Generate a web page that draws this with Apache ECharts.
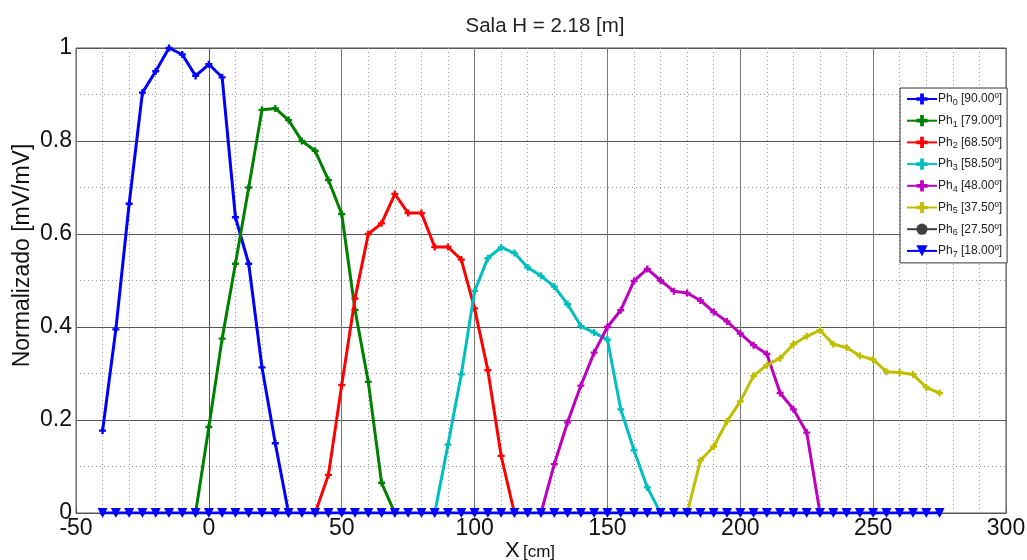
<!DOCTYPE html>
<html>
<head>
<meta charset="utf-8">
<title>Sala H = 2.18 [m]</title>
<script src="https://cdn.jsdelivr.net/npm/echarts@6/dist/echarts.min.js"></script>
<style>
  html, body { margin: 0; padding: 0; background: #fff; }
  #chart { width: 1027px; height: 560px; }
</style>
</head>
<body>
<div id="chart"></div>
<script>
// Phase labels (subscript index, angle)
const phaseNames = ['0', '1', '2', '3', '4', '5', '6', '7'];
const phaseAngles = ['90.00º', '79.00º', '68.50º', '58.50º', '48.00º', '37.50º', '27.50º', '18.00º'];

// Positions [cm] and normalized amplitude [mV/mV] for each phase
const ph0X = [-40, -35, -30, -25, -20, -15, -10, -5, 0, 5, 10, 15, 20, 25, 30];
const ph0Y = [0.177, 0.395, 0.665, 0.904, 0.950, 1.000, 0.986, 0.940, 0.965, 0.937, 0.636, 0.536, 0.313, 0.150, 0];

const ph1X = [-5, 0, 5, 10, 15, 20, 25, 30, 35, 40, 45, 50, 55, 60, 65, 70];
const ph1Y = [0, 0.185, 0.375, 0.536, 0.700, 0.867, 0.870, 0.845, 0.800, 0.779, 0.716, 0.643, 0.437, 0.282, 0.065, 0];

const ph2X = [40, 45, 50, 55, 60, 65, 70, 75, 80, 85, 90, 95, 100, 105, 110, 115];
const ph2Y = [0, 0.082, 0.275, 0.461, 0.600, 0.623, 0.686, 0.645, 0.645, 0.572, 0.572, 0.545, 0.440, 0.307, 0.123, 0];

const ph3X = [85, 90, 95, 100, 105, 110, 115, 120, 125, 130, 135, 140, 145, 150, 155, 160, 165, 170];
const ph3Y = [0, 0.147, 0.298, 0.477, 0.548, 0.571, 0.559, 0.528, 0.510, 0.487, 0.449, 0.402, 0.388, 0.373, 0.223, 0.135, 0.055, 0];

const ph4X = [125, 130, 135, 140, 145, 150, 155, 160, 165, 170, 175, 180, 185, 190, 195, 200, 205, 210, 215, 220, 225, 230];
const ph4Y = [0, 0.105, 0.195, 0.274, 0.345, 0.400, 0.436, 0.499, 0.525, 0.500, 0.477, 0.473, 0.457, 0.432, 0.412, 0.386, 0.361, 0.342, 0.258, 0.223, 0.173, 0];

const ph5X = [180, 185, 190, 195, 200, 205, 210, 215, 220, 225, 230, 235, 240, 245, 250, 255, 260, 265, 270, 275];
const ph5Y = [0, 0.113, 0.143, 0.197, 0.240, 0.295, 0.318, 0.333, 0.363, 0.380, 0.393, 0.363, 0.356, 0.338, 0.330, 0.304, 0.302, 0.298, 0.270, 0.258];

const ph6X = [-40, -35, -30, -25, -20, -15, -10, -5, 0, 5, 10, 15, 20, 25, 30, 35, 40, 45, 50, 55, 60, 65, 70, 75, 80, 85, 90, 95, 100, 105, 110, 115, 120, 125, 130, 135, 140, 145, 150, 155, 160, 165, 170, 175, 180, 185, 190, 195, 200, 205, 210, 215, 220, 225, 230, 235, 240, 245, 250, 255, 260, 265, 270, 275];
const ph6Y = [0, 0, 0, 0, 0, 0, 0, 0, 0, 0, 0, 0, 0, 0, 0, 0, 0, 0, 0, 0, 0, 0, 0, 0, 0, 0, 0, 0, 0, 0, 0, 0, 0, 0, 0, 0, 0, 0, 0, 0, 0, 0, 0, 0, 0, 0, 0, 0, 0, 0, 0, 0, 0, 0, 0, 0, 0, 0, 0, 0, 0, 0, 0, 0];

const ph7X = [-40, -35, -30, -25, -20, -15, -10, -5, 0, 5, 10, 15, 20, 25, 30, 35, 40, 45, 50, 55, 60, 65, 70, 75, 80, 85, 90, 95, 100, 105, 110, 115, 120, 125, 130, 135, 140, 145, 150, 155, 160, 165, 170, 175, 180, 185, 190, 195, 200, 205, 210, 215, 220, 225, 230, 235, 240, 245, 250, 255, 260, 265, 270, 275];
const ph7Y = [0, 0, 0, 0, 0, 0, 0, 0, 0, 0, 0, 0, 0, 0, 0, 0, 0, 0, 0, 0, 0, 0, 0, 0, 0, 0, 0, 0, 0, 0, 0, 0, 0, 0, 0, 0, 0, 0, 0, 0, 0, 0, 0, 0, 0, 0, 0, 0, 0, 0, 0, 0, 0, 0, 0, 0, 0, 0, 0, 0, 0, 0, 0, 0];

const phaseX = [ph0X, ph1X, ph2X, ph3X, ph4X, ph5X, ph6X, ph7X];
const phaseY = [ph0Y, ph1Y, ph2Y, ph3Y, ph4Y, ph5Y, ph6Y, ph7Y];
const phaseColors = ['#0000ff', '#008000', '#ff0000', '#00bfbf', '#bf00bf', '#bfbf00', '#404040', '#0000ff'];

const FONT = '"Liberation Sans", Arial, sans-serif';
// small bold plus used as point marker
const PLUS = 'path://M2,0H4V2H6V4H4V6H2V4H0V2H2Z';

const series = phaseNames.map((n, i) => {
  const isLast = i === 7;
  const isGray = i === 6;
  return {
    name: 'Ph' + n,
    type: 'line',
    data: phaseX[i].map((x, k) => [x, phaseY[i][k]]),
    symbol: isLast ? 'triangle' : (isGray ? 'circle' : PLUS),
    symbolRotate: isLast ? 180 : 0,
    symbolSize: isLast ? 10 : (isGray ? 5 : 7),
    showSymbol: true,
    lineStyle: { color: phaseColors[i], width: isGray ? 1.5 : 3 },
    itemStyle: { color: phaseColors[i], borderWidth: 0 },
    emphasis: { disabled: true },
    animation: false,
    z: 2 + i
  };
});

const chart = echarts.init(document.getElementById('chart'), null, { renderer: 'canvas' });
chart.setOption({
  backgroundColor: '#ffffff',
  animation: false,
  title: {
    text: 'Sala H = 2.18 [m]',
    left: 540,
    textAlign: 'center',
    top: 11,
    textStyle: { fontFamily: FONT, fontSize: 20.5, fontWeight: 'normal', color: '#222' }
  },
  grid: {
    left: 76, right: 21, top: 48, bottom: 47,
    outerBoundsMode: 'none',
    containLabel: false,
    show: true, borderColor: '#555', borderWidth: 1, backgroundColor: '#fff'
  },
  legend: {
    orient: 'vertical',
    left: 900,
    top: 88,
    padding: [5, 5, 4, 6],
    itemGap: 7.7,
    itemWidth: 30,
    itemHeight: 14,
    backgroundColor: '#fff',
    borderColor: '#333',
    borderWidth: 1,
    borderRadius: 0,
    data: phaseNames.map(n => 'Ph' + n),
    formatter: name => {
      const i = phaseNames.indexOf(name.slice(2));
      return 'Ph{sub|' + phaseNames[i] + '} [' + phaseAngles[i] + ']';
    },
    textStyle: {
      fontFamily: FONT, fontSize: 12, color: '#222', padding: [0, 0, 0, -4],
      rich: { sub: { fontFamily: FONT, fontSize: 9, verticalAlign: 'bottom', padding: [7, 0, 0, 0], color: '#222' } }
    }
  },
  xAxis: {
    type: 'value',
    min: -50, max: 300, interval: 50,
    name: '{big|X} {small|[cm]}',
    nameLocation: 'middle',
    nameGap: 27,
    nameMoveOverlap: false,
    nameTextStyle: {
      padding: [0, 22, 0, 0],
      rich: {
        big: { fontFamily: FONT, fontSize: 22, color: '#111' },
        small: { fontFamily: FONT, fontSize: 17, color: '#111', padding: [3, 0, 0, 0] }
      }
    },
    axisLine: { show: true, onZero: false, lineStyle: { color: '#555' } },
    axisTick: { show: true, inside: true, length: 5, lineStyle: { color: '#555' } },
    axisLabel: { fontFamily: FONT, fontSize: 23, color: '#111', margin: 4 },
    splitLine: { show: true, lineStyle: { color: '#777', width: 1, type: 'solid' } },
    minorTick: { show: false, splitNumber: 5 },
    minorSplitLine: { show: true, lineStyle: { color: '#999', width: 1, type: [1, 3] } }
  },
  yAxis: {
    type: 'value',
    min: 0, max: 1, interval: 0.2,
    name: 'Normalizado [mV/mV]',
    nameLocation: 'middle',
    nameGap: 42,
    nameMoveOverlap: false,
    nameTextStyle: { fontFamily: FONT, fontSize: 23, color: '#111', padding: [0, 0, 0, 50] },
    axisLine: { show: true, lineStyle: { color: '#555' } },
    axisTick: { show: true, inside: true, length: 5, lineStyle: { color: '#555' } },
    axisLabel: { fontFamily: FONT, fontSize: 23, color: '#111', margin: 4 },
    splitLine: { show: true, lineStyle: { color: '#555', width: 1, type: 'solid' } },
    minorTick: { show: false, splitNumber: 2 },
    minorSplitLine: { show: true, lineStyle: { color: '#999', width: 1, type: [1, 3] } }
  },
  series: series
});
</script>
</body>
</html>
